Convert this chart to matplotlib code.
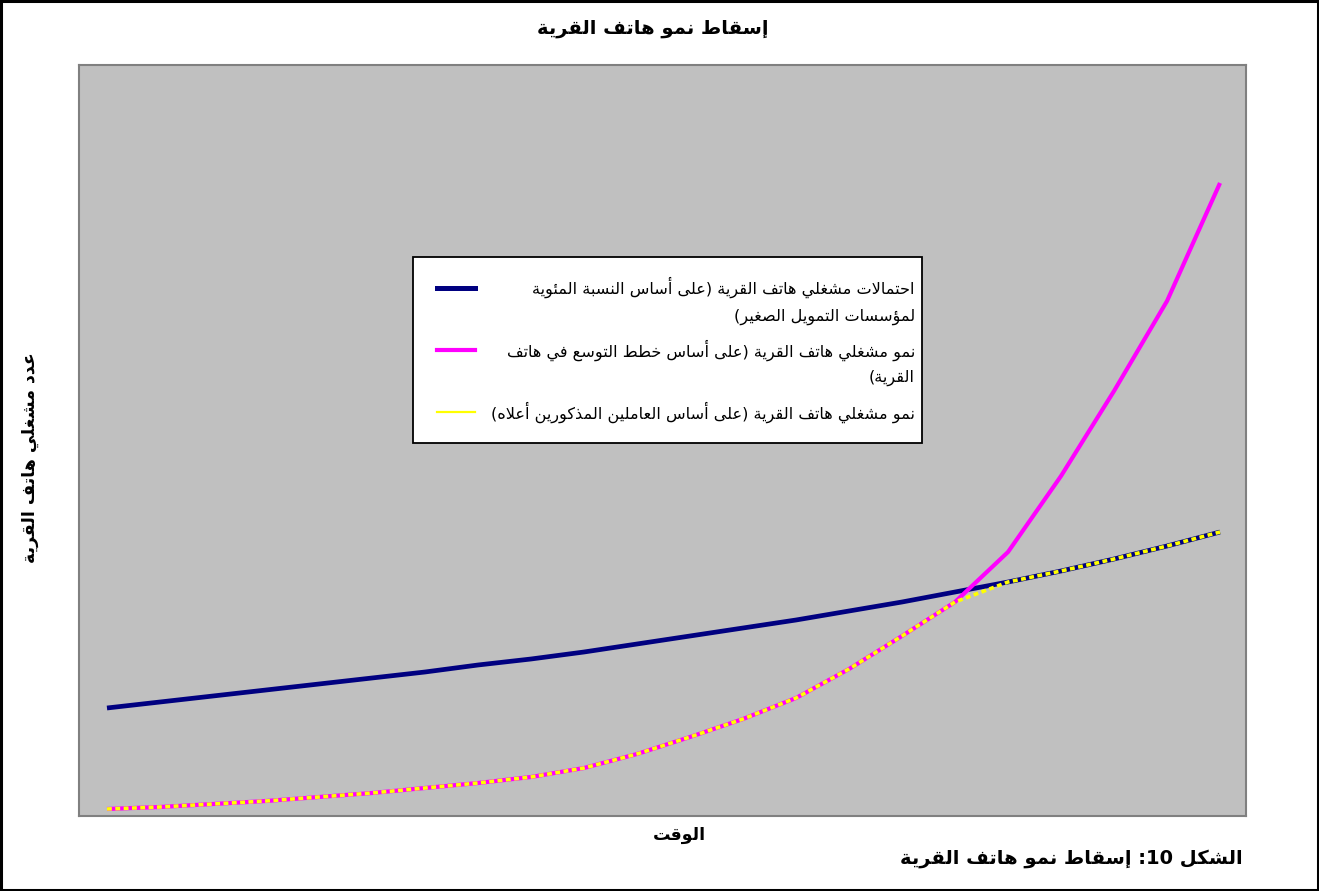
import re
import matplotlib
matplotlib.use('Agg')
import matplotlib.pyplot as plt
from matplotlib.lines import Line2D
from matplotlib.patches import Rectangle

# ---------------- data ----------------
periods = list(range(22))
mfi_based = [108, 114, 120, 126, 132, 138, 144, 151, 157, 164, 172, 180, 188, 196,
             205, 214, 224, 234, 245, 257, 270, 284]
expansion_based = [7, 9, 12, 15, 19, 23, 28, 33, 39, 48, 62, 79, 97, 118, 147, 180,
                   214, 264, 340, 425, 515, 633]
combined = [7, 9, 12, 15, 19, 23, 28, 33, 39, 48, 62, 79, 97, 118, 147, 180,
            214, 234, 245, 257, 270, 284]

title_txt = "إسقاط نمو هاتف القرية"
ylabel_txt = "عدد مشغلي هاتف القرية"
xlabel_txt = "الوقت"
caption_txt = "الشكل 10: إسقاط نمو هاتف القرية"
legend_lines = [
    ["احتمالات مشغلي هاتف القرية (على أساس النسبة المئوية", "لمؤسسات التمويل الصغير)"],
    ["نمو مشغلي هاتف القرية (على أساس خطط التوسع في هاتف", "القرية)"],
    ["نمو مشغلي هاتف القرية (على أساس العاملين المذكورين أعلاه)"],
]

# ---------------- minimal Arabic shaping + RTL ----------------
_TABLE = [
    ('\u0621', 0xFE80, 1), ('\u0622', 0xFE81, 2), ('\u0623', 0xFE83, 2), ('\u0624', 0xFE85, 2),
    ('\u0625', 0xFE87, 2), ('\u0626', 0xFE89, 4), ('\u0627', 0xFE8D, 2), ('\u0628', 0xFE8F, 4),
    ('\u0629', 0xFE93, 2), ('\u062A', 0xFE95, 4), ('\u062B', 0xFE99, 4), ('\u062C', 0xFE9D, 4),
    ('\u062D', 0xFEA1, 4), ('\u062E', 0xFEA5, 4), ('\u062F', 0xFEA9, 2), ('\u0630', 0xFEAB, 2),
    ('\u0631', 0xFEAD, 2), ('\u0632', 0xFEAF, 2), ('\u0633', 0xFEB1, 4), ('\u0634', 0xFEB5, 4),
    ('\u0635', 0xFEB9, 4), ('\u0636', 0xFEBD, 4), ('\u0637', 0xFEC1, 4), ('\u0638', 0xFEC5, 4),
    ('\u0639', 0xFEC9, 4), ('\u063A', 0xFECD, 4), ('\u0641', 0xFED1, 4), ('\u0642', 0xFED5, 4),
    ('\u0643', 0xFED9, 4), ('\u0644', 0xFEDD, 4), ('\u0645', 0xFEE1, 4), ('\u0646', 0xFEE5, 4),
    ('\u0647', 0xFEE9, 4), ('\u0648', 0xFEED, 2), ('\u0649', 0xFEEF, 2), ('\u064A', 0xFEF1, 4),
]
FORMS = {c: (b, n) for c, b, n in _TABLE}
LAMALEF = {'\u0622': 0xFEF5, '\u0623': 0xFEF7, '\u0625': 0xFEF9, '\u0627': 0xFEFB}


def ar(s):
    units = []
    i = 0
    while i < len(s):
        c = s[i]
        if c == '\u0644' and i + 1 < len(s) and s[i + 1] in LAMALEF:
            units.append(('LA', LAMALEF[s[i + 1]]))
            i += 2
        else:
            units.append((c, None))
            i += 1

    def joins_next(u):
        return u[0] != 'LA' and u[0] in FORMS and FORMS[u[0]][1] == 4

    def joinable(u):
        return u[0] == 'LA' or (u[0] in FORMS and FORMS[u[0]][1] >= 2)

    out = []
    for k, u in enumerate(units):
        c = u[0]
        prev = units[k - 1] if k > 0 else None
        nxt = units[k + 1] if k + 1 < len(units) else None
        jp = prev is not None and joins_next(prev) and joinable(u)
        if c == 'LA':
            out.append(chr(u[1] + (1 if jp else 0)))
            continue
        if c not in FORMS:
            out.append(c)
            continue
        base, n = FORMS[c]
        jn = n == 4 and nxt is not None and joinable(nxt)
        if n == 1:
            g = base
        elif n == 2:
            g = base + 1 if jp else base
        else:
            if jp and jn:
                g = base + 3
            elif jp:
                g = base + 1
            elif jn:
                g = base + 2
            else:
                g = base
        out.append(chr(g))
    vis = ''.join(out)[::-1]
    vis = re.sub(r'[0-9]+', lambda m: m.group(0)[::-1], vis)
    vis = vis.translate(str.maketrans('()', ')('))
    return vis


# ---------------- figure ----------------
W, H = 1319, 891
plt.rcParams['font.family'] = ['DejaVu Sans']
plt.rcParams['lines.scale_dashes'] = False
fig = plt.figure(figsize=(W / 100, H / 100), dpi=100)


def fx(px):
    return px / W


def fy(py):
    return 1 - py / H


ax_l, ax_r, ax_t, ax_b = 79, 1246, 65, 816
ax = fig.add_axes([fx(ax_l), fy(ax_b), fx(ax_r - ax_l), (ax_b - ax_t) / H])
ax.set_facecolor('#C0C0C0')
for sp in ax.spines.values():
    sp.set_color('#808080')
    sp.set_linewidth(1.5)
ax.set_xticks([])
ax.set_yticks([])

navy = '#000080'
magenta = '#FF00FF'
yellow = '#FFFF00'

l1, = ax.plot(periods, mfi_based, color=navy, lw=3.4, solid_capstyle='butt',
              solid_joinstyle='round')
l2, = ax.plot(periods, expansion_based, color=magenta, lw=3.0, solid_capstyle='butt',
              solid_joinstyle='round')
l3, = ax.plot(periods, combined, color=yellow, lw=2.6, dashes=(3.5, 2.5),
              dash_capstyle='butt')

ax.set_xlim(-0.528, 21.49)
ax.set_ylim(0, 751)

# titles / labels
fig.text(fx(653), fy(28), ar(title_txt), ha='center', va='center',
         fontsize=14, fontweight='bold')
fig.text(fx(30), fy(458), ar(ylabel_txt), ha='center', va='center',
         rotation=90, fontsize=12.5, fontweight='bold')
fig.text(fx(679), fy(835), ar(xlabel_txt), ha='center', va='center',
         fontsize=12.5, fontweight='bold')
fig.text(fx(1243), fy(858), ar(caption_txt), ha='right', va='center',
         fontsize=14, fontweight='bold')

# legend (manual, right-to-left layout)
lx0, lx1, ly0, ly1 = 413, 922, 257, 443
fig.add_artist(Rectangle((fx(lx0), fy(ly1)), fx(lx1 - lx0), (ly1 - ly0) / H,
                         transform=fig.transFigure, facecolor='white',
                         edgecolor='black', lw=1.3, zorder=5))
key_specs = [(l1, 288, 3.6), (l2, 350, 3.0), (l3, 412, 1.6)]
for line, ky, klw in key_specs:
    fig.add_artist(Line2D([fx(437), fx(475)], [fy(ky), fy(ky)], transform=fig.transFigure,
                          color=line.get_color(), lw=klw, zorder=6))
text_rows = [[287, 317], [350, 378], [412]]
for rows, ys in zip(legend_lines, text_rows):
    for row, yy in zip(rows, ys):
        fig.text(fx(915), fy(yy), ar(row), ha='right', va='center',
                 fontsize=11.6, zorder=7)

# outer frame
fig.add_artist(Rectangle((0.0008, 0.0012), 0.9984, 0.9976, transform=fig.transFigure,
                         fill=False, edgecolor='black', lw=2.2, zorder=10))

fig.savefig('out.png', dpi=100)
